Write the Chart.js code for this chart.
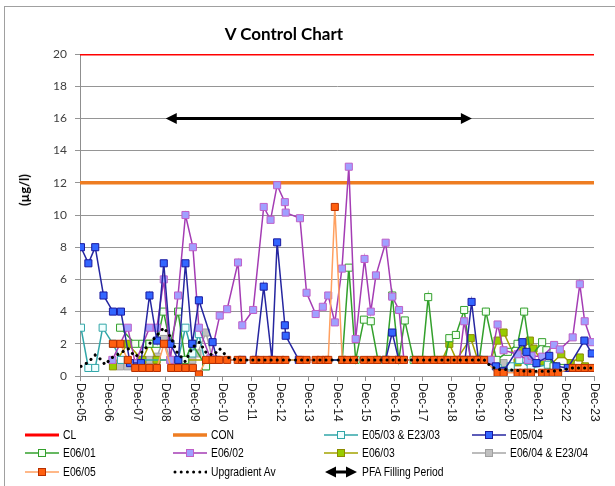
<!DOCTYPE html>
<html>
<head>
<meta charset="utf-8">
<script src="https://cdn.jsdelivr.net/npm/chart.js@4.4.0/dist/chart.umd.min.js"></script>
<style>
  body { margin: 0; background: #fff; }
  #wrap { position: relative; width: 615px; height: 486px; overflow: hidden; }
  #frame { position: absolute; left: 4px; top: 6px; width: 640px; height: 520px; border: 1px solid #a0a0a0; }
  canvas { position: absolute; left: 0; top: 0; }
  #title { position: absolute; left: 0; width: 568px; top: 23px; text-align: center;
           font: bold 17px Lato, "Open Sans", sans-serif; color: #000; }
  #ytitle { position: absolute; left: 24px; top: 190px; transform: translate(-50%, -50%) rotate(-90deg);
            font: bold 13px Lato, "Open Sans", sans-serif; white-space: nowrap; color: #000; }
  .leg { position: absolute; display: flex; align-items: center; height: 14px;
         font: 12px "Liberation Sans Narrow", "Liberation Sans", Arial, sans-serif; color: #000; white-space: nowrap; }
  .leg svg { margin-right: 4px; }
  .leg span { display: inline-block; transform: scaleX(0.86); transform-origin: left center; }
</style>
</head>
<body>
<div id="wrap">
  <div id="frame"></div>
  <canvas id="chart" width="615" height="486"></canvas>
  <div id="title">V Control Chart</div>
  <div id="ytitle">(µg/l)</div>
  <div id="legend"></div>
</div>
<script>
// x axis: one tick per December
const yearTicks = ['Dec-05','Dec-06','Dec-07','Dec-08','Dec-09','Dec-10','Dec-11','Dec-12','Dec-13',
                   'Dec-14','Dec-15','Dec-16','Dec-17','Dec-18','Dec-19','Dec-20','Dec-21','Dec-22','Dec-23'];
const firstTick = 2005 + 11 / 12;

const clLimit = 20;
const conLimit = 12;
const pfaPeriod = [2008.92, 2019.64];
const pfaLevel = 16;

// values, [decimal year, µg/l]
const e0503 = [[2005.95,3],[2006.21,0.5],[2006.45,0.5],[2006.71,3],[2007.07,2],[2007.35,1],[2009.35,1],
  [2009.61,3],[2009.85,1.4],[2010.08,2.6],[2010.33,0.6],[2010.6,1],[2020.07,1],[2020.54,0.5],[2021.0,0.6],
  [2021.3,1.0],[2021.7,0.5],[2022.3,0.7],[2022.6,0.5]];

const e0504 = [[2005.95,8],[2006.21,7],[2006.45,8],[2006.74,5],[2007.07,4],[2007.35,4],[2007.67,0.8],
  [2008.05,0.8],[2008.35,5],[2008.61,2.2],[2008.85,7],[2009.08,2],[2009.36,1],[2009.61,7],[2009.85,2],
  [2010.08,4.7],[2010.56,2.1],[2010.72,1],[2011.6,1],[2012.06,1],[2012.35,5.55],[2012.64,1],[2012.82,8.3],
  [2013.09,3.15],[2013.12,2.5],[2013.58,1],[2016.62,1],[2016.85,2.7],[2017.08,1],[2019.4,1],[2019.63,4.6],
  [2019.87,1],[2020.48,0.6],[2020.75,0.3],[2021.41,2.1],[2021.55,1.5],[2021.9,0.8],[2022.35,1.25],
  [2022.6,0.6],[2023.0,0.5],[2023.58,2.2],[2023.84,1.4]];

const e0601 = [[2007.32,3],[2007.85,2],[2008.1,2],[2008.35,2],[2008.6,2],[2008.84,4],[2009.08,2],[2009.35,4],
  [2009.6,1],[2009.85,2],[2010.33,0.6],[2010.6,1],[2015.1,1],[2015.33,6.73],[2015.57,1],[2015.86,3.5],
  [2016.1,3.4],[2016.35,1],[2016.62,1],[2016.85,5.0],[2017.08,1],[2017.29,3.45],[2017.6,1],[2017.9,1],
  [2018.11,4.9],[2018.35,1],[2018.7,1],[2018.85,2.35],[2019.08,2.55],[2019.37,4.1],[2019.6,1],[2019.9,1],
  [2020.13,4.0],[2020.5,1.0],[2020.9,1.5],[2021.24,2.0],[2021.47,4.0],[2021.7,1.2],[2022.1,2.1],
  [2022.25,1.6],[2022.5,0.6],[2022.8,0.5]];

const e0602 = [[2007.05,1],[2007.59,3],[2007.85,0.8],[2008.35,3],[2008.61,3],[2008.85,6],[2009.08,1],
  [2009.35,5],[2009.61,10],[2009.87,8],[2010.08,3],[2010.48,1.1],[2010.81,3.75],[2011.07,4.15],[2011.45,7.05],
  [2011.6,3.15],[2011.98,4.1],[2012.35,10.5],[2012.59,9.7],[2012.82,11.85],[2013.09,10.8],[2013.12,10.15],
  [2013.62,9.8],[2013.85,5.17],[2014.17,3.85],[2014.42,4.3],[2014.61,5.0],[2014.84,3.33],[2015.09,6.67],
  [2015.33,13.0],[2015.57,2.3],[2015.88,7.27],[2016.1,4.0],[2016.28,6.25],[2016.62,8.28],[2016.85,4.93],
  [2017.09,4.1],[2017.26,1.0],[2019.2,1],[2019.37,3.4],[2019.6,1],[2020.3,1],[2020.54,3.2],[2020.75,1.6],
  [2021.24,1.35],[2021.6,1.0],[2021.73,1.26],[2022.1,1.2],[2022.52,1.93],[2022.72,1.65],[2023.17,2.4],
  [2023.42,5.7],[2023.59,3.4],[2023.84,2.1]];

const e0603 = [[2007.07,0.6],[2007.58,2],[2008.1,1],[2008.35,2],[2008.6,1],[2018.6,1],[2018.85,2.0],
  [2019.1,1],[2019.6,2.35],[2019.85,1],[2020.3,1],[2020.54,2.2],[2020.75,2.7],[2021.24,0.85],[2021.41,1.6],
  [2021.67,2.2],[2021.8,1.7],[2022.1,0.9],[2022.4,0.7],[2022.77,1.35],[2023.1,0.8],[2023.42,1.15],[2023.6,0.6]];

const e0604 = [[2007.32,0.6],[2007.58,0.6],[2008.1,1],[2008.35,1],[2008.61,1.2],[2008.85,2.3],[2009.08,1],
  [2009.85,1],[2010.03,1.4],[2010.33,2.7],[2010.56,1],[2020.07,1],[2020.54,0.8],[2020.75,0.8],[2021.0,0.5]];

const e0605 = [[2007.07,2],[2007.33,2],[2007.59,1],[2007.85,0.5],[2008.1,0.5],[2008.35,0.5],[2008.61,0.5],
  [2008.86,2],[2009.11,0.5],[2009.35,0.5],[2009.61,0.5],[2009.87,0.5],[2010.08,0.1],[2010.33,1],[2010.56,1],
  [2010.79,1],[2011.07,1],[2011.44,1],[2011.59,1],[2012.0,1],[2012.24,1],[2012.47,1],[2012.7,1],[2012.94,1],
  [2013.11,1],[2013.62,1],[2013.85,1],[2014.17,1],[2014.34,1],[2014.52,1],[2014.61,1],[2014.84,10.5],
  [2015.1,1],[2015.28,1],[2015.51,1],[2015.86,1],[2016.1,1],[2016.33,1],[2016.62,1],[2016.86,1],[2017.09,1],
  [2017.26,1],[2017.67,1],[2017.85,1],[2018.08,1],[2018.32,1],[2018.55,1],[2018.79,1],[2019.02,1],[2019.25,1],
  [2019.37,1],[2019.6,1],[2019.84,1],[2020.07,1],[2020.54,0.2],[2020.75,0.2],[2021.24,0.2],[2021.42,0.2],
  [2021.59,0.2],[2021.71,0.2],[2022.1,0.2],[2022.3,0.2],[2022.47,0.2],[2022.66,0.2],[2023.17,0.5],
  [2023.4,0.5],[2023.59,0.5],[2023.84,0.5]];

const upgradient = [[2005.95,0.6],[2006.2,0.85],[2006.45,1.3],[2006.6,1.1],[2006.8,0.7],[2007.0,1.1],
  [2007.3,1.4],[2007.6,1.7],[2007.85,1.2],[2008.1,1.5],[2008.35,2.0],[2008.6,2.5],[2008.85,3.0],[2009.1,2.4],
  [2009.3,1.5],[2009.6,0.9],[2009.87,1.8],[2010.1,2.1],[2010.35,1.4],[2010.6,1.3],[2010.8,1.7],[2011.1,1.15],
  [2011.4,1.0],[2020.07,1.0],[2020.3,0.6],[2020.54,0.4],[2020.8,0.4],[2021.5,0.3],[2022.5,0.3],[2022.9,0.4],
  [2023.17,0.5],[2023.84,0.5]];

const xMax = firstTick + yearTicks.length - 1;

const series = [
  { label: 'E05/03 & E23/03', data: e0503, line: '#31a6a8', fill: '#f0ffff', edge: '#31a6a8', order: 5 },
  { label: 'E05/04', data: e0504, line: '#2626a0', fill: '#3366ff', edge: '#1a1aa0', order: 2 },
  { label: 'E06/01', data: e0601, line: '#33a02c', fill: '#f4fff4', edge: '#33a02c', order: 4 },
  { label: 'E06/02', data: e0602, line: '#a43cb4', fill: '#a0a0ff', edge: '#c060c8', order: 3 },
  { label: 'E06/03', data: e0603, line: '#a3a300', fill: '#99cc00', edge: '#8c8c00', order: 6 },
  { label: 'E06/04 & E23/04', data: e0604, line: '#a6a6a6', fill: '#c0c0c0', edge: '#a0a0a0', order: 7 },
  { label: 'E06/05', data: e0605, line: '#ffa060', fill: '#ff5f0f', edge: '#b83000', order: 1 }
];

const toXY = arr => arr.map(p => ({ x: p[0], y: p[1] }));

const datasets = [
  { label: 'CL', data: [{ x: firstTick, y: clLimit }, { x: xMax, y: clLimit }],
    borderColor: '#ff0000', borderWidth: 3, pointRadius: 0, order: 9 },
  { label: 'CON', data: [{ x: firstTick, y: conLimit }, { x: xMax, y: conLimit }],
    borderColor: '#ee7d22', borderWidth: 3.5, pointRadius: 0, order: 8 }
];
series.forEach(s => datasets.push({
  label: s.label, data: toXY(s.data), borderColor: s.line, borderWidth: 1.5,
  pointStyle: 'rect', pointRadius: 5, pointBorderWidth: 1,
  pointBackgroundColor: s.fill, pointBorderColor: s.edge, order: s.order
}));
datasets.push({
  label: 'Upgradient Av', data: toXY(upgradient), borderColor: '#000', borderWidth: 3,
  borderDash: [0.1, 6], borderCapStyle: 'round', pointRadius: 0, order: 0
});

// draws the Dec-xx labels turned clockwise, as in the spreadsheet
const xLabels = {
  id: 'xLabels',
  afterDraw(chart) {
    const sx = chart.scales.x, ctx = chart.ctx;
    ctx.save();
    ctx.font = '12px "Liberation Sans", Arial, sans-serif';
    ctx.fillStyle = '#222';
    ctx.textAlign = 'left';
    ctx.textBaseline = 'middle';
    yearTicks.forEach((lab, i) => {
      ctx.save();
      ctx.translate(sx.getPixelForValue(firstTick + i), chart.chartArea.bottom + 7);
      ctx.rotate(Math.PI / 2);
      ctx.fillText(lab, 0, 0);
      ctx.restore();
    });
    ctx.restore();
  }
};

// double headed arrow for the PFA filling period
const pfaArrow = {
  id: 'pfaArrow',
  afterDatasetsDraw(chart) {
    const ctx = chart.ctx;
    const x1 = chart.scales.x.getPixelForValue(pfaPeriod[0]);
    const x2 = chart.scales.x.getPixelForValue(pfaPeriod[1]);
    const y = chart.scales.y.getPixelForValue(pfaLevel);
    ctx.save();
    ctx.strokeStyle = '#000';
    ctx.fillStyle = '#000';
    ctx.lineWidth = 3;
    ctx.beginPath(); ctx.moveTo(x1 + 6, y); ctx.lineTo(x2 - 6, y); ctx.stroke();
    ctx.beginPath(); ctx.moveTo(x1, y); ctx.lineTo(x1 + 11, y - 5.5); ctx.lineTo(x1 + 11, y + 5.5); ctx.fill();
    ctx.beginPath(); ctx.moveTo(x2, y); ctx.lineTo(x2 - 11, y - 5.5); ctx.lineTo(x2 - 11, y + 5.5); ctx.fill();
    ctx.restore();
  }
};

new Chart(document.getElementById('chart'), {
  type: 'line',
  data: { datasets },
  options: {
    responsive: false,
    animation: false,
    events: [],
    layout: { padding: { left: 20, right: 21, top: 54, bottom: 50 } },
    plugins: { legend: { display: false }, tooltip: { enabled: false }, title: { display: false } },
    elements: { line: { tension: 0 } },
    scales: {
      x: {
        type: 'linear', min: firstTick, max: xMax,
        afterBuildTicks: scale => { scale.ticks = yearTicks.map((_, i) => ({ value: firstTick + i })); },
        afterFit: scale => { scale.height = 60; },
        ticks: { display: false },
        grid: { drawOnChartArea: false, drawTicks: true, tickLength: 5, color: '#8f8f8f' },
        border: { color: '#8f8f8f' }
      },
      y: {
        min: 0, max: 20,
        afterFit: scale => { scale.width = 60; },
        ticks: { stepSize: 2, padding: 8, color: '#404040', font: { family: 'Lato', size: 12 } },
        grid: { color: '#959595', tickLength: 5 },
        border: { color: '#8f8f8f' }
      }
    }
  },
  plugins: [xLabels, pfaArrow]
});

// legend laid out in the spreadsheet's 4-column grid
const legendCols = [25, 173, 324, 472];
const legendRows = [435, 453, 472];
const legendItems = ['CL', 'CON', 'E05/03 & E23/03', 'E05/04', 'E06/01', 'E06/02', 'E06/03',
                     'E06/04 & E23/04', 'E06/05', 'Upgradient Av', 'PFA Filling Period'];

function sample(name) {
  if (name === 'CL') return '<line x1="0" y1="6" x2="34" y2="6" stroke="#ff0000" stroke-width="3"/>';
  if (name === 'CON') return '<line x1="0" y1="6" x2="34" y2="6" stroke="#ee7d22" stroke-width="3.5"/>';
  if (name === 'Upgradient Av')
    return '<line x1="2" y1="6" x2="33" y2="6" stroke="#000" stroke-width="3" stroke-linecap="round" stroke-dasharray="0 6.2"/>';
  if (name === 'PFA Filling Period')
    return '<line x1="8" y1="6" x2="26" y2="6" stroke="#000" stroke-width="3"/>' +
           '<path d="M1 6 L12 0.5 L12 11.5 Z M33 6 L22 0.5 L22 11.5 Z" fill="#000"/>';
  const s = series.find(d => d.label === name);
  return `<line x1="0" y1="6" x2="34" y2="6" stroke="${s.line}" stroke-width="1.5"/>` +
         `<rect x="13.5" y="2.5" width="7" height="7" fill="${s.fill}" stroke="${s.edge}" stroke-width="1"/>`;
}

const legendEl = document.getElementById('legend');
legendItems.forEach((name, i) => {
  const div = document.createElement('div');
  div.className = 'leg';
  div.style.left = legendCols[i % 4] + 'px';
  div.style.top = (legendRows[Math.floor(i / 4)] - 7) + 'px';
  div.innerHTML = `<svg width="34" height="12">${sample(name)}</svg><span></span>`;
  div.querySelector('span').textContent = name;
  legendEl.appendChild(div);
});
</script>
</body>
</html>
